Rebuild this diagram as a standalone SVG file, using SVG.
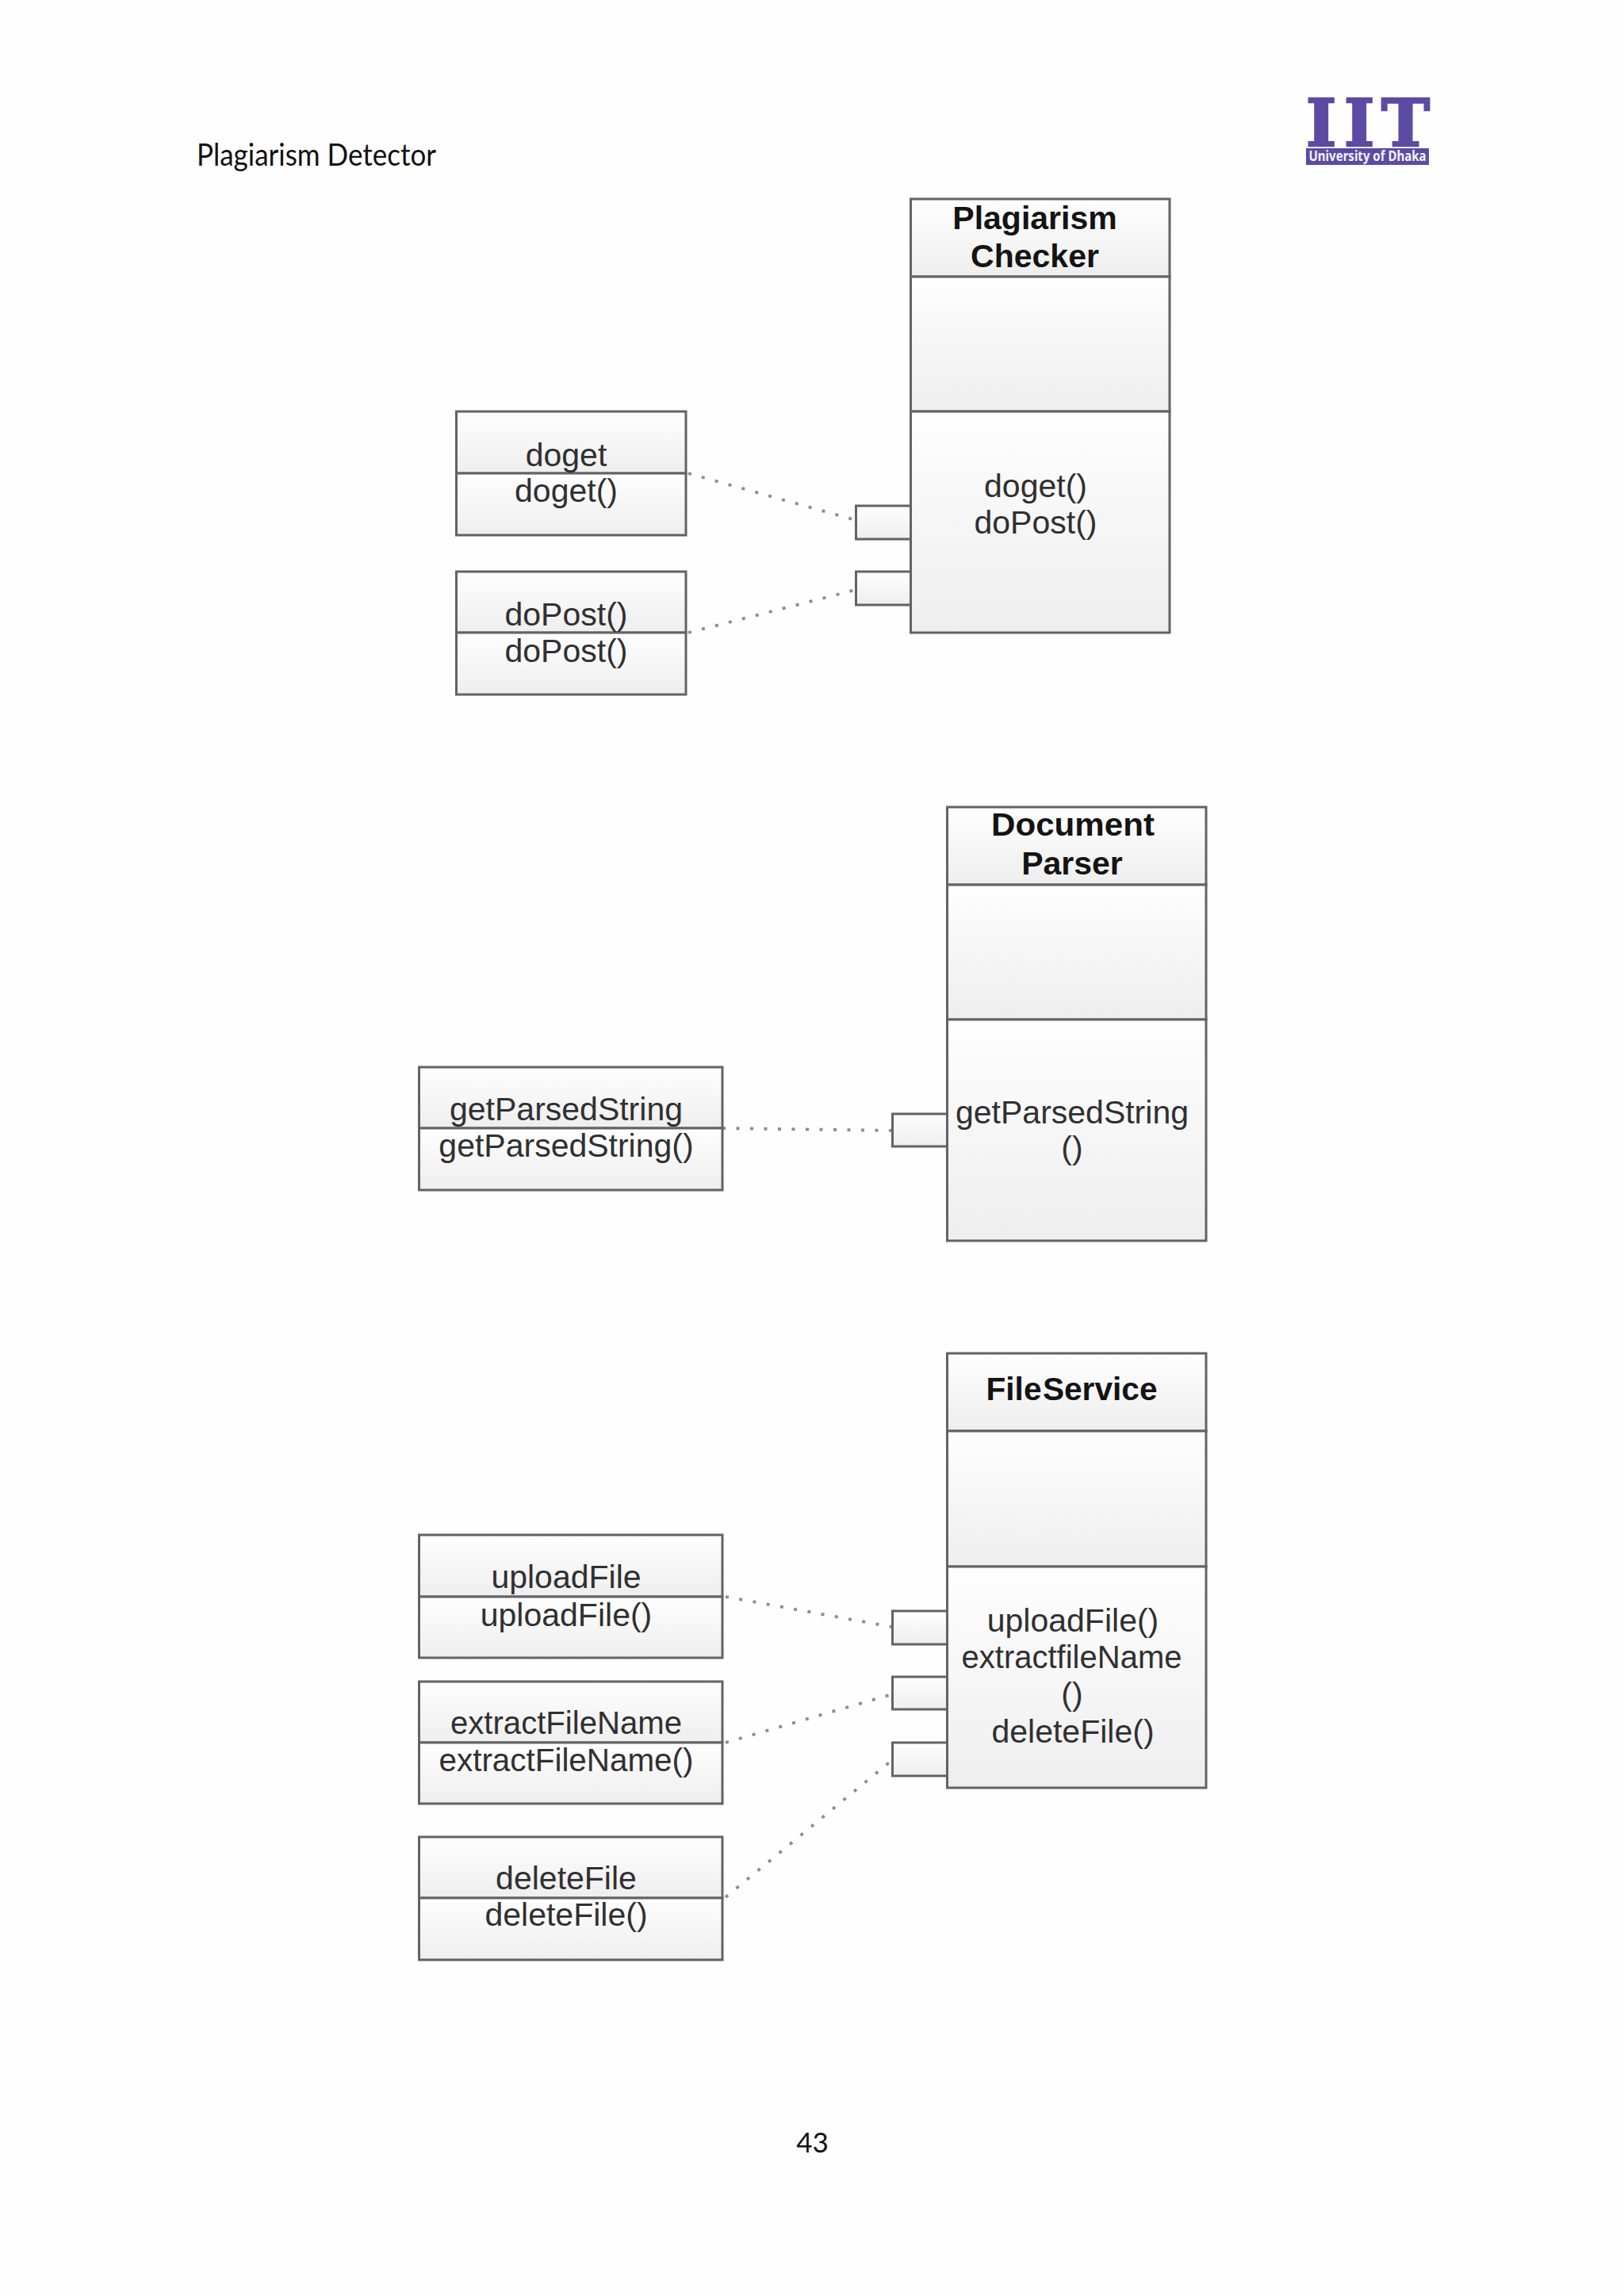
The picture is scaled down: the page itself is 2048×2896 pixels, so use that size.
<svg xmlns="http://www.w3.org/2000/svg" width="2048" height="2896" viewBox="0 0 2048 2896">
<style>
.b{fill:url(#g);stroke:#636363;stroke-width:3}
.t{font-family:"Liberation Sans",Arial,sans-serif;font-size:41px;fill:#303030;text-anchor:middle}
.h{font-weight:700;fill:#141414}
.d{fill:none;stroke:#8f8a96;stroke-width:3.8;stroke-dasharray:4 13.500}
.p{font-family:Lato,"Noto Sans",sans-serif;fill:#111}
</style>
<defs><linearGradient id="g" x1="0" y1="0" x2="0" y2="1"><stop offset="0" stop-color="#fefefe"/><stop offset="1" stop-color="#eeeeee"/></linearGradient></defs>
<rect width="2048" height="2896" fill="#fefefe"/>
<g id="page-header">
<text class="p" x="248" y="209" font-size="38" textLength="302" lengthAdjust="spacingAndGlyphs">Plagiarism Detector</text>
</g>
<g id="logo">
<text y="184" font-family="'DejaVu Serif',serif" font-weight="700" font-size="82" fill="#5b4ba3" stroke="#5b4ba3" stroke-width="2.500"><tspan x="1647">I</tspan><tspan x="1695">I</tspan><tspan x="1742">T</tspan></text>
<rect x="1647" y="187" width="155" height="21" fill="#5b4ba3"/>
<text x="1724.500" y="203" font-family="'Noto Sans',sans-serif" font-weight="700" font-size="17" fill="#f4f2fa" text-anchor="middle" textLength="148" lengthAdjust="spacingAndGlyphs">University of Dhaka</text>
</g>
<g id="connectors">
<line class="d" x1="868" y1="597" x2="1079" y2="656"/>
<line class="d" x1="868" y1="798" x2="1079" y2="744"/>
<line class="d" x1="911" y1="1423" x2="1125" y2="1426"/>
<line class="d" x1="915" y1="2014" x2="1125" y2="2052"/>
<line class="d" x1="915" y1="2198" x2="1125" y2="2137"/>
<line class="d" x1="915" y1="2393" x2="1125" y2="2220"/>
</g>
<g id="plagiarism-checker">
<rect class="b" x="1079.500" y="638" width="69" height="42"/>
<rect class="b" x="1079.500" y="721" width="69" height="42"/>
<rect class="b" x="1148.500" y="251" width="326.500" height="98"/>
<rect class="b" x="1148.500" y="349" width="326.500" height="170"/>
<rect class="b" x="1148.500" y="519" width="326.500" height="279"/>
<text class="t h" x="1305" y="289">Plagiarism</text>
<text class="t h" x="1305" y="337">Checker</text>
<text class="t" x="1306" y="627">doget()</text>
<text class="t" x="1306" y="673">doPost()</text>
</g>
<g id="doget">
<rect class="b" x="575.500" y="519" width="289.500" height="78"/>
<rect class="b" x="575.500" y="597" width="289.500" height="78"/>
<text class="t" x="714" y="588">doget</text>
<text class="t" x="714" y="633">doget()</text>
</g>
<g id="doPost">
<rect class="b" x="575.500" y="721" width="289.500" height="77"/>
<rect class="b" x="575.500" y="798" width="289.500" height="78"/>
<text class="t" x="714" y="789">doPost()</text>
<text class="t" x="714" y="835">doPost()</text>
</g>
<g id="document-parser">
<rect class="b" x="1125.500" y="1405" width="69" height="41"/>
<rect class="b" x="1194.500" y="1018" width="326.500" height="98"/>
<rect class="b" x="1194.500" y="1116" width="326.500" height="170"/>
<rect class="b" x="1194.500" y="1286" width="326.500" height="279"/>
<text class="t h" x="1353" y="1054" textLength="206" lengthAdjust="spacingAndGlyphs">Document</text>
<text class="t h" x="1352" y="1103">Parser</text>
<text class="t" x="1352" y="1417">getParsedString</text>
<text class="t" x="1352" y="1462">()</text>
</g>
<g id="getParsedString">
<rect class="b" x="528.500" y="1346" width="382.500" height="77"/>
<rect class="b" x="528.500" y="1423" width="382.500" height="78"/>
<text class="t" x="714" y="1413">getParsedString</text>
<text class="t" x="714" y="1459">getParsedString()</text>
</g>
<g id="file-service">
<rect class="b" x="1125.500" y="2032" width="69" height="42"/>
<rect class="b" x="1125.500" y="2115" width="69" height="41"/>
<rect class="b" x="1125.500" y="2198" width="69" height="42"/>
<rect class="b" x="1194.500" y="1707" width="326.500" height="98"/>
<rect class="b" x="1194.500" y="1805" width="326.500" height="171"/>
<rect class="b" x="1194.500" y="1976" width="326.500" height="279"/>
<text class="t h" x="1351.500" y="1766" word-spacing="-10" textLength="216" lengthAdjust="spacingAndGlyphs">File Service</text>
<text class="t" x="1353" y="2058">uploadFile()</text>
<text class="t" x="1351.500" y="2104" textLength="278" lengthAdjust="spacingAndGlyphs">extractfileName</text>
<text class="t" x="1352" y="2151">()</text>
<text class="t" x="1353" y="2198">deleteFile()</text>
</g>
<g id="uploadFile">
<rect class="b" x="528.500" y="1936" width="382.500" height="78"/>
<rect class="b" x="528.500" y="2014" width="382.500" height="77"/>
<text class="t" x="714" y="2003">uploadFile</text>
<text class="t" x="714" y="2051">uploadFile()</text>
</g>
<g id="extractFileName">
<rect class="b" x="528.500" y="2121" width="382.500" height="77"/>
<rect class="b" x="528.500" y="2198" width="382.500" height="77"/>
<text class="t" x="714" y="2187" textLength="292" lengthAdjust="spacingAndGlyphs">extractFileName</text>
<text class="t" x="714" y="2234" textLength="321" lengthAdjust="spacingAndGlyphs">extractFileName()</text>
</g>
<g id="deleteFile">
<rect class="b" x="528.500" y="2317" width="382.500" height="77"/>
<rect class="b" x="528.500" y="2394" width="382.500" height="78"/>
<text class="t" x="714" y="2383">deleteFile</text>
<text class="t" x="714" y="2429">deleteFile()</text>
</g>
<g id="page-footer">
<text class="p" x="1024.500" y="2715" font-size="35" text-anchor="middle">43</text>
</g>
</svg>
